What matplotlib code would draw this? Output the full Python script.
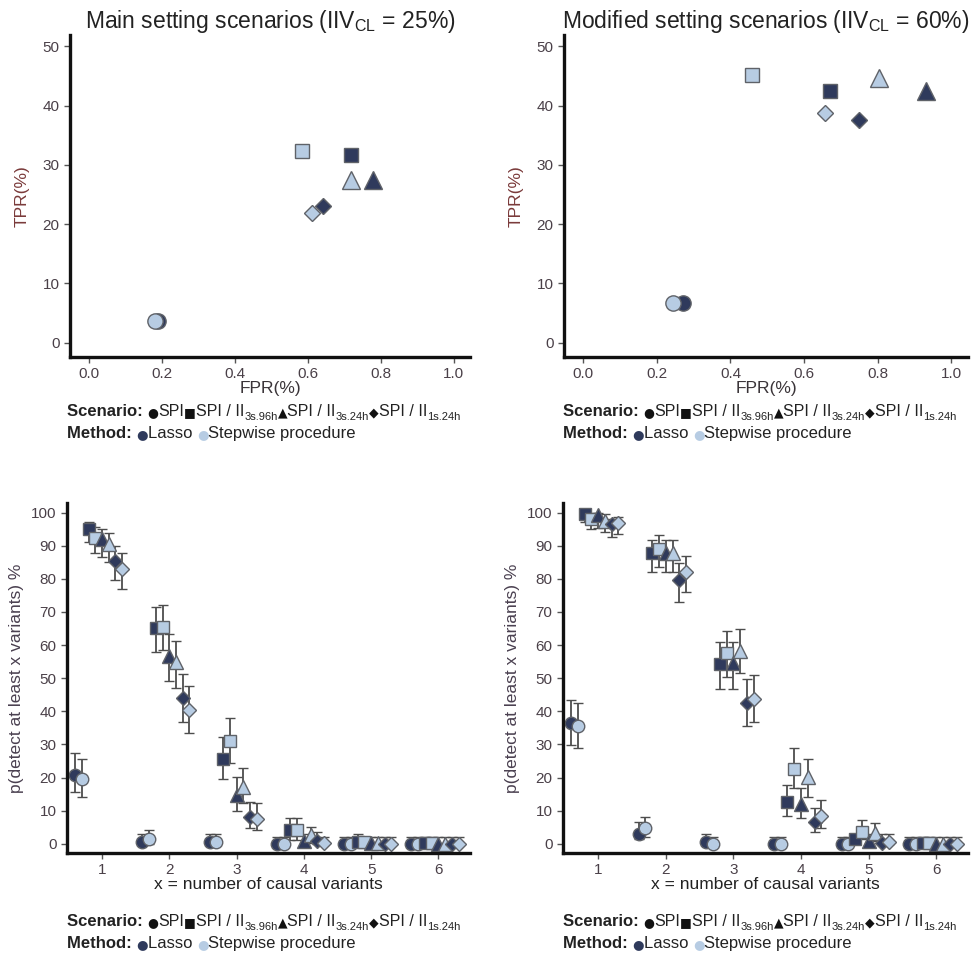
import matplotlib
matplotlib.use('Agg')
import matplotlib.pyplot as plt
import numpy as np

plt.rcParams['font.family'] = ['Liberation Sans', 'DejaVu Sans']
plt.rcParams['mathtext.fontset'] = 'custom'
plt.rcParams['mathtext.rm'] = 'Liberation Sans'
plt.rcParams['mathtext.it'] = 'Liberation Sans:italic'
plt.rcParams['mathtext.bf'] = 'Liberation Sans:bold'

# order: SPI, SPI/II 3s.96h, SPI/II 3s.24h, SPI/II 1s.24h  (name, subscript)
scenarios = [('SPI', ''), ('SPI / II', '3s.96h'), ('SPI / II', '3s.24h'), ('SPI / II', '1s.24h')]
methods = ['Lasso', 'Stepwise procedure']

# top panels: FPR / TPR
fpr_main_lasso = [0.189, 0.718, 0.779, 0.642]
tpr_main_lasso = [3.7, 31.7, 27.5, 23.1]
fpr_main_step = [0.181, 0.583, 0.718, 0.612]
tpr_main_step = [3.6, 32.3, 27.5, 21.8]

fpr_mod_lasso = [0.271, 0.669, 0.932, 0.748]
tpr_mod_lasso = [6.7, 42.5, 42.4, 37.5]
fpr_mod_step = [0.244, 0.459, 0.803, 0.656]
tpr_mod_step = [6.7, 45.2, 44.6, 38.8]

# bottom panels: p(detect at least x variants), x = 1..6
n_causal = [1, 2, 3, 4, 5, 6]

main_spi_lasso = [20.8, 0.6, 0.4, 0, 0, 0]
main_spi_lasso_lo = [15.5, 0, 0, 0, 0, 0]
main_spi_lasso_hi = [27.3, 2.9, 2.9, 2.0, 2.0, 2.0]
main_spi_step = [19.5, 1.4, 0.4, 0, 0, 0]
main_spi_step_lo = [14.2, 0, 0, 0, 0, 0]
main_spi_step_hi = [25.5, 4.2, 2.9, 2.0, 2.0, 2.0]
main_3s96_lasso = [95.1, 65.3, 25.6, 4.1, 0.5, 0.3]
main_3s96_lasso_lo = [91.1, 57.8, 19.5, 1.2, 0, 0]
main_3s96_lasso_hi = [97.3, 71.4, 32.1, 7.7, 2.9, 2.0]
main_3s96_step = [92.4, 65.6, 31.0, 4.1, 0.5, 0.3]
main_3s96_step_lo = [87.7, 58.5, 24.5, 1.2, 0, 0]
main_3s96_step_hi = [95.8, 72.0, 37.9, 7.7, 2.0, 2.0]
main_3s24_lasso = [92.0, 56.8, 14.7, 0.9, 0.2, 0]
main_3s24_lasso_lo = [86.7, 49.2, 9.9, 0, 0, 0]
main_3s24_lasso_hi = [95.0, 63.4, 20.2, 2.9, 2.0, 2.0]
main_3s24_step = [90.4, 54.8, 17.2, 2.6, 0.2, 0]
main_3s24_step_lo = [85.2, 47.1, 12.2, 0.3, 0, 0]
main_3s24_step_hi = [93.8, 61.3, 22.8, 5.0, 2.0, 2.0]
main_1s24_lasso = [85.4, 43.9, 8.0, 0.9, 0, 0]
main_1s24_lasso_lo = [79.7, 36.9, 4.6, 0, 0, 0]
main_1s24_lasso_hi = [89.9, 51.2, 12.5, 3.4, 2.0, 2.0]
main_1s24_step = [82.9, 40.4, 7.5, 0.3, 0, 0]
main_1s24_step_lo = [77.0, 33.5, 4.1, 0, 0, 0]
main_1s24_step_hi = [87.7, 47.6, 12.2, 2.0, 2.0, 2.0]

mod_spi_lasso = [36.6, 2.9, 0.6, 0, 0, 0]
mod_spi_lasso_lo = [29.8, 1.4, 0, 0, 0, 0]
mod_spi_lasso_hi = [43.4, 6.5, 2.9, 2.0, 2.0, 2.0]
mod_spi_step = [35.6, 4.6, 0, 0, 0, 0]
mod_spi_step_lo = [28.8, 2.1, 0, 0, 0, 0]
mod_spi_step_hi = [42.4, 8.2, 2.0, 2.0, 2.0, 2.0]
mod_3s96_lasso = [99.6, 87.7, 54.3, 12.5, 1.4, 0.3]
mod_3s96_lasso_lo = [97.1, 82.2, 46.7, 8.4, 0.3, 0]
mod_3s96_lasso_hi = [100, 91.8, 61.0, 17.7, 2.9, 2.0]
mod_3s96_step = [98.0, 89.0, 57.5, 22.6, 3.6, 0.3]
mod_3s96_step_lo = [95.0, 83.7, 50.5, 16.9, 1.4, 0]
mod_3s96_step_hi = [99.8, 93.1, 64.3, 28.8, 7.2, 2.0]
mod_3s24_lasso = [99.3, 87.7, 54.5, 12.0, 0.9, 0]
mod_3s24_lasso_lo = [95.5, 82.2, 46.7, 7.7, 0, 0]
mod_3s24_lasso_hi = [100, 91.8, 61.0, 16.9, 2.9, 2.0]
mod_3s24_step = [97.6, 87.9, 58.3, 20.1, 3.1, 0]
mod_3s24_step_lo = [94.0, 82.2, 51.5, 14.2, 0.8, 0]
mod_3s24_step_hi = [99.5, 91.8, 64.8, 25.5, 6.3, 2.0]
mod_1s24_lasso = [96.5, 79.7, 42.4, 6.6, 0.3, 0]
mod_1s24_lasso_lo = [92.7, 73.1, 35.6, 3.6, 0, 0]
mod_1s24_lasso_hi = [98.0, 84.7, 49.7, 10.9, 2.9, 2.0]
mod_1s24_step = [97.0, 82.2, 43.7, 8.4, 0.4, 0]
mod_1s24_step_lo = [93.5, 76.1, 36.9, 4.8, 0, 0]
mod_1s24_step_hi = [98.8, 87.0, 51.0, 13.2, 2.9, 2.0]

dark = '#2f3a5c'
light = '#b7cce3'
edge = '#5f6268'
tick_col = '#4a4048'
markers = ['o', 's', '^', 'D']
msize_top = [11, 10.5, 13, 8.5]
msize_bot = [9, 8.5, 10, 7]

fig = plt.figure(figsize=(9.75, 9.63), dpi=100)


def style_axes(ax):
    for s in ['top', 'right']:
        ax.spines[s].set_visible(False)
    for s in ['left', 'bottom']:
        ax.spines[s].set_linewidth(2.4)
        ax.spines[s].set_color('#111111')
    ax.tick_params(direction='out', length=4, width=1, color='#555555',
                   labelcolor=tick_col, labelsize=11)


def top_panel(rect, title, lasso_x, lasso_y, step_x, step_y):
    ax = fig.add_axes(rect)
    style_axes(ax)
    for i in range(4):
        ax.plot(lasso_x[i], lasso_y[i], markers[i], ms=msize_top[i], mfc=dark, mec=edge, mew=1)
        ax.plot(step_x[i], step_y[i], markers[i], ms=msize_top[i], mfc=light, mec=edge, mew=1)
    ax.set_xlim(-0.052, 1.045)
    ax.set_ylim(-2.4, 51.9)
    ax.set_xticks([0.0, 0.2, 0.4, 0.6, 0.8, 1.0])
    ax.set_xticklabels(['0.0', '0.2', '0.4', '0.6', '0.8', '1.0'])
    ax.set_yticks([0, 10, 20, 30, 40, 50])
    ax.set_xlabel('FPR(%)', fontsize=12.5, color='#3a3438', labelpad=0)
    ax.set_ylabel('TPR(%)', fontsize=12.5, color='#7a3a3a', labelpad=9)
    ax.set_title(title, fontsize=16.5, color='#222222', pad=3)
    return ax


def bottom_panel(rect, series):
    ax = fig.add_axes(rect)
    style_axes(ax)
    x = np.array(n_causal, dtype=float)
    k = 0
    for i in range(4):
        for j, col in enumerate([dark, light]):
            v, lo, hi = (np.array(a, dtype=float) for a in series[i][j])
            ax.errorbar(x - 0.4 + 0.1 * k, v, yerr=[v - lo, hi - v], fmt=markers[i],
                        ms=msize_bot[i], mfc=col, mec=edge, mew=1,
                        ecolor='#4d4d4d', elinewidth=1.3, capsize=3.5, capthick=1.3)
            k += 1
    ax.set_xlim(0.48, 6.47)
    ax.set_ylim(-2.8, 102.9)
    ax.set_xticks(n_causal)
    ax.set_yticks(range(0, 101, 10))
    ax.set_xlabel('x = number of causal variants', fontsize=12.5, color='#222222', labelpad=0)
    ax.set_ylabel('p(detect at least x variants) %', fontsize=12.5, color='#4a4050', labelpad=5)
    return ax


def draw_row(x, y, parts):
    r = fig.canvas.get_renderer()
    for txt, kw in parts:
        kw = dict(kw)
        dy = kw.pop('dy', 0) / fig.bbox.height
        t = fig.text(x, y + dy, txt, va='baseline', ha='left', **kw)
        bb = t.get_window_extent(r)
        x += bb.width / fig.bbox.width


def legend_block(x, y1, y2):
    sym = ['\u25cf', '\u25a0', '\u25b2', '\u25c6']
    parts = [('Scenario: ', dict(fontsize=12, fontweight='bold', color='#222222'))]
    for s, (name, sub) in zip(sym, scenarios):
        parts.append((s, dict(fontsize=9, color='#111111', family='DejaVu Sans')))
        parts.append((name, dict(fontsize=11.5, color='#222222')))
        if sub:
            parts.append((sub, dict(fontsize=8, color='#222222', dy=-4)))
    draw_row(x, y1, parts)
    parts = [('Method: ', dict(fontsize=12, fontweight='bold', color='#222222')),
             ('\u25cf', dict(fontsize=9.5, color=dark, family='DejaVu Sans')),
             (methods[0] + ' ', dict(fontsize=12, color='#222222')),
             ('\u25cf', dict(fontsize=9.5, color=light, family='DejaVu Sans')),
             (methods[1], dict(fontsize=12, color='#222222'))]
    draw_row(x, y2, parts)


H = 963.0
W = 975.0
top_panel([70 / W, 1 - 357 / H, 400 / W, 322 / H],
          'Main setting scenarios (IIV$_{\\mathrm{CL}}$ = 25%)',
          fpr_main_lasso, tpr_main_lasso, fpr_main_step, tpr_main_step)
top_panel([564 / W, 1 - 357 / H, 404 / W, 322 / H],
          'Modified setting scenarios (IIV$_{\\mathrm{CL}}$ = 60%)',
          fpr_mod_lasso, tpr_mod_lasso, fpr_mod_step, tpr_mod_step)

main_series = [
    [(main_spi_lasso, main_spi_lasso_lo, main_spi_lasso_hi), (main_spi_step, main_spi_step_lo, main_spi_step_hi)],
    [(main_3s96_lasso, main_3s96_lasso_lo, main_3s96_lasso_hi), (main_3s96_step, main_3s96_step_lo, main_3s96_step_hi)],
    [(main_3s24_lasso, main_3s24_lasso_lo, main_3s24_lasso_hi), (main_3s24_step, main_3s24_step_lo, main_3s24_step_hi)],
    [(main_1s24_lasso, main_1s24_lasso_lo, main_1s24_lasso_hi), (main_1s24_step, main_1s24_step_lo, main_1s24_step_hi)],
]
mod_series = [
    [(mod_spi_lasso, mod_spi_lasso_lo, mod_spi_lasso_hi), (mod_spi_step, mod_spi_step_lo, mod_spi_step_hi)],
    [(mod_3s96_lasso, mod_3s96_lasso_lo, mod_3s96_lasso_hi), (mod_3s96_step, mod_3s96_step_lo, mod_3s96_step_hi)],
    [(mod_3s24_lasso, mod_3s24_lasso_lo, mod_3s24_lasso_hi), (mod_3s24_step, mod_3s24_step_lo, mod_3s24_step_hi)],
    [(mod_1s24_lasso, mod_1s24_lasso_lo, mod_1s24_lasso_hi), (mod_1s24_step, mod_1s24_step_lo, mod_1s24_step_hi)],
]
bottom_panel([67 / W, 1 - 853 / H, 403 / W, 350 / H], main_series)
bottom_panel([563 / W, 1 - 853 / H, 405 / W, 350 / H], mod_series)

legend_block(67 / W, 1 - 416 / H, 1 - 438 / H)
legend_block(563 / W, 1 - 416 / H, 1 - 438 / H)
legend_block(67 / W, 1 - 926 / H, 1 - 948 / H)
legend_block(563 / W, 1 - 926 / H, 1 - 948 / H)

fig.savefig('out.png', dpi=100, facecolor='white')
